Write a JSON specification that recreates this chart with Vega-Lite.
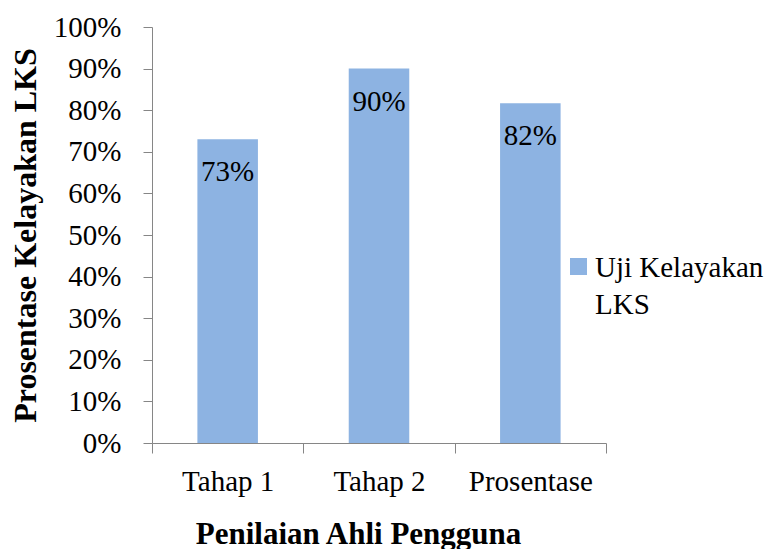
{
  "$schema": "https://vega.github.io/schema/vega-lite/v6.json",
  "width": 454,
  "height": 416,
  "autosize": {"type": "none"},
  "padding": {"left": 152, "top": 27, "right": 177, "bottom": 106},
  "background": "white",
  "config": {
    "view": {"stroke": null},
    "font": "'Liberation Serif', 'Times New Roman', serif"
  },
  "data": {
    "values": [
      {"tahap": "Tahap 1", "nilai": 0.73, "seri": "Uji Kelayakan LKS"},
      {"tahap": "Tahap 2", "nilai": 0.90, "seri": "Uji Kelayakan LKS"},
      {"tahap": "Prosentase", "nilai": 0.817, "seri": "Uji Kelayakan LKS"}
    ]
  },
  "encoding": {
    "x": {
      "field": "tahap",
      "type": "nominal",
      "sort": null,
      "scale": {"paddingInner": 0, "paddingOuter": 0},
      "axis": {
        "title": "Penilaian Ahli Pengguna",
        "labelAngle": 0,
        "tickBand": "extent",
        "tickSize": 10,
        "tickWidth": 1,
        "tickColor": "#868686",
        "domainColor": "#868686",
        "domainWidth": 1,
        "labelFont": "'Liberation Serif', 'Times New Roman', serif",
        "labelFontSize": 29,
        "labelColor": "#000000",
        "labelBaseline": "alphabetic",
        "labelPadding": 37,
        "titleFont": "'Liberation Serif', 'Times New Roman', serif",
        "titleFontSize": 31,
        "titleFontWeight": "bold",
        "titleColor": "#000000",
        "titleX": 206,
        "titleY": 100,
        "titleAlign": "center",
        "titleBaseline": "alphabetic"
      }
    },
    "y": {
      "field": "nilai",
      "type": "quantitative",
      "scale": {"domain": [0, 1]},
      "axis": {
        "title": "Prosentase Kelayakan LKS",
        "values": [0, 0.1, 0.2, 0.3, 0.4, 0.5, 0.6, 0.7, 0.8, 0.9, 1],
        "format": ".0%",
        "grid": false,
        "tickSize": 9,
        "tickWidth": 1,
        "tickColor": "#868686",
        "domainColor": "#868686",
        "domainWidth": 1,
        "labelFont": "'Liberation Serif', 'Times New Roman', serif",
        "labelFontSize": 29,
        "labelColor": "#000000",
        "labelPadding": 22,
        "titleFont": "'Liberation Serif', 'Times New Roman', serif",
        "titleFontSize": 32,
        "titleFontWeight": "bold",
        "titleColor": "#000000",
        "titleAngle": -90,
        "titleX": -117,
        "titleY": 208,
        "titleAlign": "center",
        "titleBaseline": "alphabetic"
      }
    }
  },
  "layer": [
    {
      "mark": {"type": "bar", "width": {"band": 0.4}},
      "encoding": {
        "color": {
          "field": "seri",
          "type": "nominal",
          "scale": {"range": ["#8DB3E2"]},
          "legend": {
            "title": null,
            "orient": "none",
            "legendX": 412,
            "legendY": 225,
            "padding": 0,
            "symbolType": "square",
            "symbolSize": 289,
            "symbolStrokeWidth": 0,
            "labelFont": "'Liberation Serif', 'Times New Roman', serif",
            "labelFontSize": 29,
            "labelColor": "#000000",
            "labelOffset": 2,
            "labelLimit": 400,
            "labelBaseline": "alphabetic",
            "labelExpr": "datum.label == 'Uji Kelayakan LKS' ? ['Uji Kelayakan', 'LKS'] : datum.label",
            "encode": {
              "labels": {
                "update": {
                  "dy": {"value": 10},
                  "lineHeight": {"value": 37}
                }
              }
            }
          }
        }
      }
    },
    {
      "mark": {
        "type": "text",
        "baseline": "alphabetic",
        "dy": 42,
        "fontSize": 29,
        "font": "'Liberation Serif', 'Times New Roman', serif",
        "color": "#000000"
      },
      "encoding": {
        "text": {"field": "nilai", "type": "quantitative", "format": ".0%"}
      }
    }
  ]
}
